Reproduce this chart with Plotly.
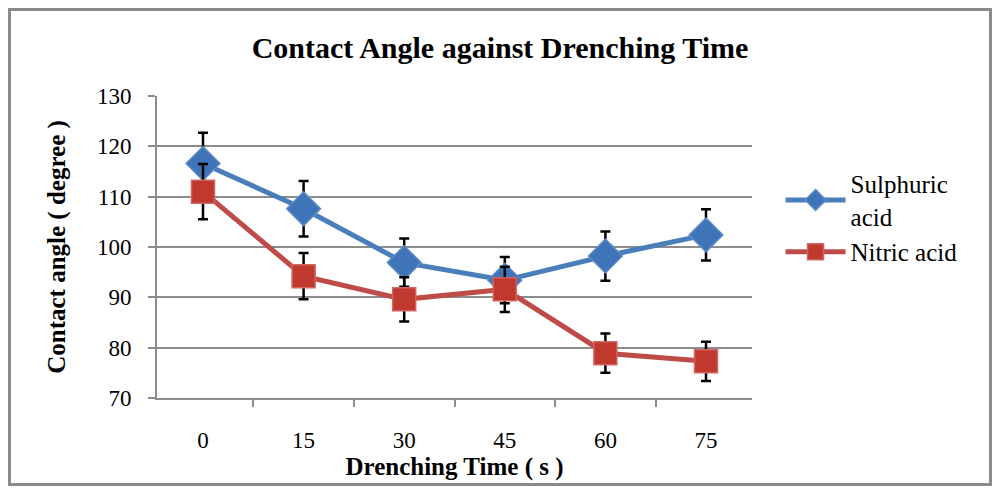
import plotly.graph_objects as go

# drenching time (s) on the category axis
times = ["0", "15", "30", "45", "60", "75"]

sulphuric = [116.6, 107.6, 96.9, 93.4, 98.2, 102.4]
sulphuric_err = [6.1, 5.5, 4.8, 4.6, 4.9, 5.1]

nitric = [111.0, 94.2, 89.6, 91.6, 78.9, 77.3]
nitric_err = [5.5, 4.6, 4.4, 4.5, 3.9, 3.9]

SERIF = "Liberation Serif, Times New Roman, serif"
GRID = "#8c8c8c"

fig = go.Figure()

fig.add_trace(go.Scatter(
    x=times, y=sulphuric,
    name="Sulphuric<br>acid",
    mode="lines+markers",
    line=dict(color="#4a7ebb", width=5),
    marker=dict(symbol="diamond", size=26, color="#3f74b8",
                line=dict(color="#5b8bc6", width=1.5)),
    error_y=dict(type="data", array=sulphuric_err, color="black",
                 thickness=2.5, width=5),
))

fig.add_trace(go.Scatter(
    x=times, y=nitric,
    name="Nitric acid",
    mode="lines+markers",
    line=dict(color="#be4b48", width=5),
    marker=dict(symbol="square", size=23, color="#c0392f",
                line=dict(color="#d06560", width=1.5)),
    error_y=dict(type="data", array=nitric_err, color="black",
                 thickness=2.5, width=5),
))

# outer frame of the chart area
fig.add_shape(type="rect", xref="paper", yref="paper",
              x0=-0.2479, x1=1.4008, y0=-0.2864, y1=1.2864,
              line=dict(color="#8a8a8a", width=3), layer="below")

# the page body keeps an 8px margin, so the figure is 16px smaller
# than the window and everything sits 8px in from the page corner
fig.update_layout(
    width=984, height=478,
    margin=dict(l=149, r=240, t=88, b=88),
    paper_bgcolor="white",
    plot_bgcolor="white",
    font=dict(family=SERIF, color="black", size=22),
    title=dict(text="<b>Contact Angle against Drenching Time</b>",
               x=0.5765, xref="paper", xanchor="center",
               y=1 - 39 / 478, yanchor="middle",
               font=dict(size=30, family=SERIF)),
    legend=dict(x=1.048, y=0.785, xanchor="left", yanchor="top",
                font=dict(size=25, family=SERIF),
                bgcolor="rgba(0,0,0,0)", tracegroupgap=0, itemwidth=60),
    showlegend=True,
)

fig.update_xaxes(
    type="category",
    automargin=False,
    tickson="boundaries",
    ticks="outside", ticklen=7, tickwidth=2, tickcolor=GRID,
    showline=True, linecolor=GRID, linewidth=2,
    showgrid=False,
    ticklabelstandoff=20,
    tickfont=dict(size=23, family=SERIF),
    title=dict(text="<b>Drenching Time ( s )</b>", standoff=2,
               font=dict(size=25, family=SERIF)),
)

fig.update_yaxes(
    automargin=False,
    range=[70, 130], dtick=10,
    ticks="outside", ticklen=7, tickwidth=2, tickcolor=GRID,
    showline=True, linecolor=GRID, linewidth=2,
    showgrid=True, gridcolor=GRID, gridwidth=2,
    zeroline=False,
    ticklabelstandoff=12,
    tickfont=dict(size=23, family=SERIF),
    title=dict(text="<b>Contact angle ( degree )</b>", standoff=24,
               font=dict(size=25, family=SERIF)),
)

fig.write_html("out.html")
